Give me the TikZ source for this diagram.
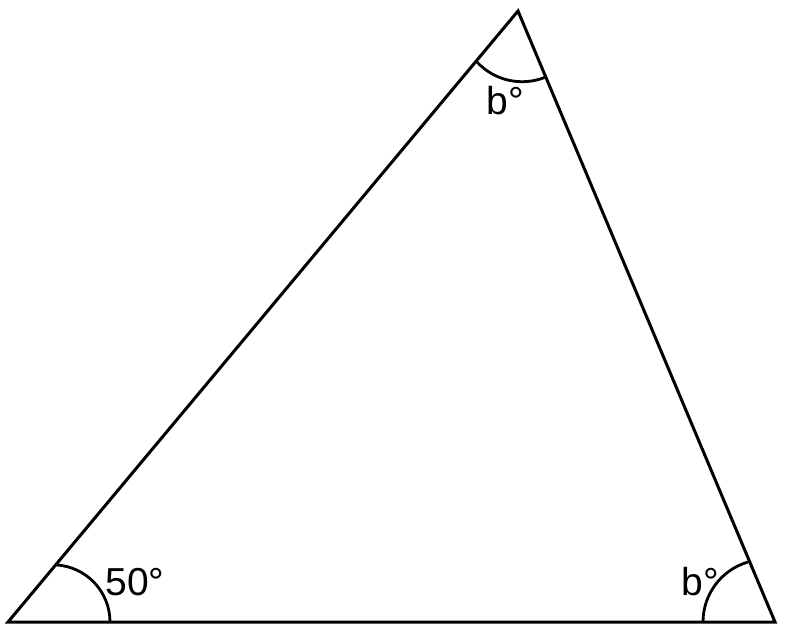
\documentclass[tikz,border=0pt]{standalone}
\usepackage{fontspec}
\setmainfont{Liberation Sans}
\begin{document}
\begin{tikzpicture}[x=1pt,y=-1pt,
  edge/.style={line width=3pt,line join=miter},
  anglearc/.style={line width=2.8pt},
  lbl/.style={inner sep=0pt,font=\fontsize{39}{42}\selectfont}]
\useasboundingbox (0,0) rectangle (786,634);
\coordinate (A) at (8,622);
\coordinate (B) at (518,11);
\coordinate (C) at (775,622);
\draw[edge] (A) -- (B) -- (C) -- cycle;
% angle arcs
\draw[anglearc] (110,622) arc[start angle=0,end angle=-87.2,radius=57.2];
\draw[anglearc] (476.7,61.7) arc[start angle=137.6,end angle=68.3,radius=61.5];
\draw[anglearc] (703,622) arc[start angle=180,end angle=253.7,radius=62.5];
\node[lbl] (l1) at (135,582) {50°};
\node[lbl] (l2) at (505,101) {b°};
\node[lbl] (l3) at (700,582) {b°};
\end{tikzpicture}
\end{document}
